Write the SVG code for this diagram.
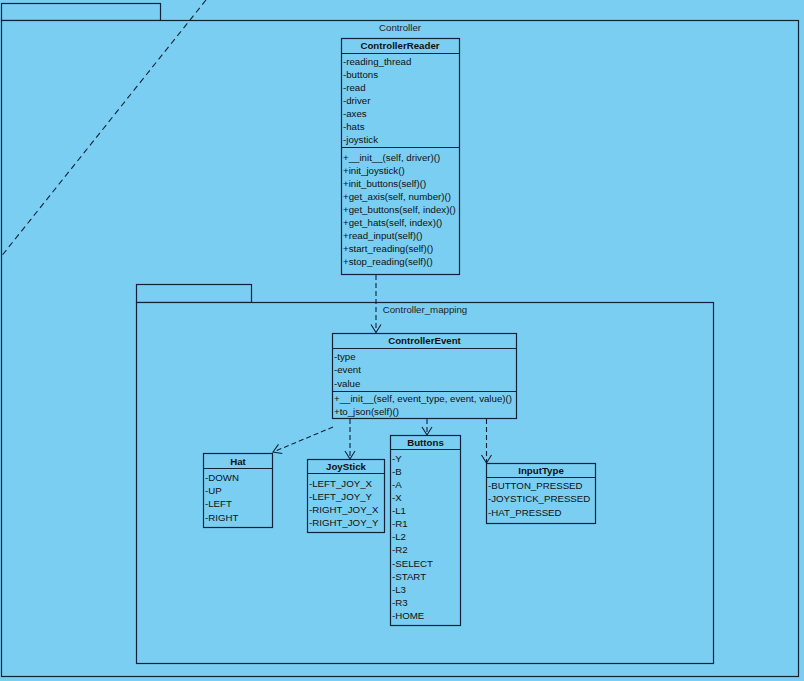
<svg xmlns="http://www.w3.org/2000/svg" width="804" height="681" viewBox="0 0 804 681">
  <style>
    .bg { fill: #7acef2; }
    .box { fill: #7acef2; stroke: #12223a; stroke-width: 1.2; }
    .sep { stroke: #12223a; stroke-width: 1.2; fill: none; }
    .dash { stroke: #12223a; stroke-width: 1.1; fill: none; stroke-dasharray: 5,3; }
    text { font-family: "Liberation Sans", Arial, sans-serif; font-size: 9.7px; fill: #111; }
    .title { font-weight: bold; text-anchor: middle; }
    .pkg { fill: #222; text-anchor: middle; }
  </style>
  <defs>
    <marker id="open" viewBox="-10 -6 12 12" refX="0" refY="0" markerWidth="12" markerHeight="12" markerUnits="userSpaceOnUse" orient="auto">
      <path d="M-8,-5 L0,0 L-8,5" fill="none" stroke="#12223a" stroke-width="1.1"/>
    </marker>
  </defs>

  <rect class="bg" x="0" y="0" width="804" height="681"/>

  <!-- outer package: Controller -->
  <g id="pkg-controller">
    <rect class="box" x="1.5" y="3.5" width="159" height="17"/>
    <rect class="box" x="1.5" y="20.5" width="797" height="656"/>
    <text class="pkg" x="400" y="31">Controller</text>
  </g>

  <!-- anchor line crossing the package corner -->
  <line class="dash" x1="206" y1="0" x2="0" y2="258" style="stroke-dasharray:6,4"/>

  <!-- inner package: Controller_mapping -->
  <g id="pkg-mapping">
    <rect class="box" x="136.5" y="284.5" width="115" height="18"/>
    <rect class="box" x="136.5" y="302.5" width="577" height="361"/>
    <text class="pkg" x="425" y="313">Controller_mapping</text>
  </g>

  <!-- ControllerReader -->
  <g id="ControllerReader">
    <rect class="box" x="341.5" y="38.5" width="118" height="236"/>
    <line class="sep" x1="341.5" y1="53.5" x2="459.5" y2="53.5"/>
    <line class="sep" x1="341.5" y1="147.5" x2="459.5" y2="147.5"/>
    <text class="title" x="400" y="49">ControllerReader</text>
    <text x="343" y="64.5">-reading_thread</text>
    <text x="343" y="77.5">-buttons</text>
    <text x="343" y="90.5">-read</text>
    <text x="343" y="103.5">-driver</text>
    <text x="343" y="116.5">-axes</text>
    <text x="343" y="129.5">-hats</text>
    <text x="343" y="142.5">-joystick</text>
    <text x="343" y="160.5">+__init__(self, driver)()</text>
    <text x="343" y="173.5">+init_joystick()</text>
    <text x="343" y="186.5">+init_buttons(self)()</text>
    <text x="343" y="199.5">+get_axis(self, number)()</text>
    <text x="343" y="212.5">+get_buttons(self, index)()</text>
    <text x="343" y="225.5">+get_hats(self, index)()</text>
    <text x="343" y="238.5">+read_input(self)()</text>
    <text x="343" y="251.5">+start_reading(self)()</text>
    <text x="343" y="264.5">+stop_reading(self)()</text>
  </g>

  <!-- ControllerEvent -->
  <g id="ControllerEvent">
    <rect class="box" x="332.5" y="333.5" width="184" height="85"/>
    <line class="sep" x1="332.5" y1="348.5" x2="516.5" y2="348.5"/>
    <line class="sep" x1="332.5" y1="391.5" x2="516.5" y2="391.5"/>
    <text class="title" x="424.5" y="344">ControllerEvent</text>
    <text x="334" y="359.5">-type</text>
    <text x="334" y="373">-event</text>
    <text x="334" y="386.5">-value</text>
    <text x="334" y="401.5">+__init__(self, event_type, event, value)()</text>
    <text x="334" y="415">+to_json(self)()</text>
  </g>

  <!-- Hat -->
  <g id="Hat">
    <rect class="box" x="203.5" y="453.5" width="69" height="74"/>
    <line class="sep" x1="203.5" y1="468.5" x2="272.5" y2="468.5"/>
    <text class="title" x="238" y="465">Hat</text>
    <text x="205" y="481">-DOWN</text>
    <text x="205" y="494">-UP</text>
    <text x="205" y="507">-LEFT</text>
    <text x="205" y="520.5">-RIGHT</text>
  </g>

  <!-- JoyStick -->
  <g id="JoyStick">
    <rect class="box" x="307.5" y="459.5" width="77" height="73"/>
    <line class="sep" x1="307.5" y1="473.5" x2="384.5" y2="473.5"/>
    <text class="title" x="346" y="470">JoyStick</text>
    <text x="309" y="486.5">-LEFT_JOY_X</text>
    <text x="309" y="499.5">-LEFT_JOY_Y</text>
    <text x="309" y="512.5">-RIGHT_JOY_X</text>
    <text x="309" y="525.5">-RIGHT_JOY_Y</text>
  </g>

  <!-- Buttons -->
  <g id="Buttons">
    <rect class="box" x="390.5" y="435.5" width="70" height="190"/>
    <line class="sep" x1="390.5" y1="449.5" x2="460.5" y2="449.5"/>
    <text class="title" x="425.5" y="446">Buttons</text>
    <text x="392" y="462">-Y</text>
    <text x="392" y="475">-B</text>
    <text x="392" y="488">-A</text>
    <text x="392" y="501">-X</text>
    <text x="392" y="514">-L1</text>
    <text x="392" y="527">-R1</text>
    <text x="392" y="540">-L2</text>
    <text x="392" y="553">-R2</text>
    <text x="392" y="566.5">-SELECT</text>
    <text x="392" y="579.5">-START</text>
    <text x="392" y="592.5">-L3</text>
    <text x="392" y="605.5">-R3</text>
    <text x="392" y="618.5">-HOME</text>
  </g>

  <!-- InputType -->
  <g id="InputType">
    <rect class="box" x="486.5" y="463.5" width="109" height="60"/>
    <line class="sep" x1="486.5" y1="477.5" x2="595.5" y2="477.5"/>
    <text class="title" x="541" y="474">InputType</text>
    <text x="488" y="488.5">-BUTTON_PRESSED</text>
    <text x="488" y="502">-JOYSTICK_PRESSED</text>
    <text x="488" y="515.5">-HAT_PRESSED</text>
  </g>

  <!-- dependencies -->
  <g id="connectors">
    <line class="dash" x1="376" y1="275" x2="376" y2="332.5" marker-end="url(#open)"/>
    <line class="dash" x1="333" y1="427" x2="273" y2="452" marker-end="url(#open)"/>
    <line class="dash" x1="350" y1="419" x2="350" y2="459" marker-end="url(#open)"/>
    <line class="dash" x1="427" y1="419" x2="427" y2="435" marker-end="url(#open)"/>
    <line class="dash" x1="486.5" y1="419" x2="486.5" y2="463" marker-end="url(#open)"/>
  </g>
</svg>
